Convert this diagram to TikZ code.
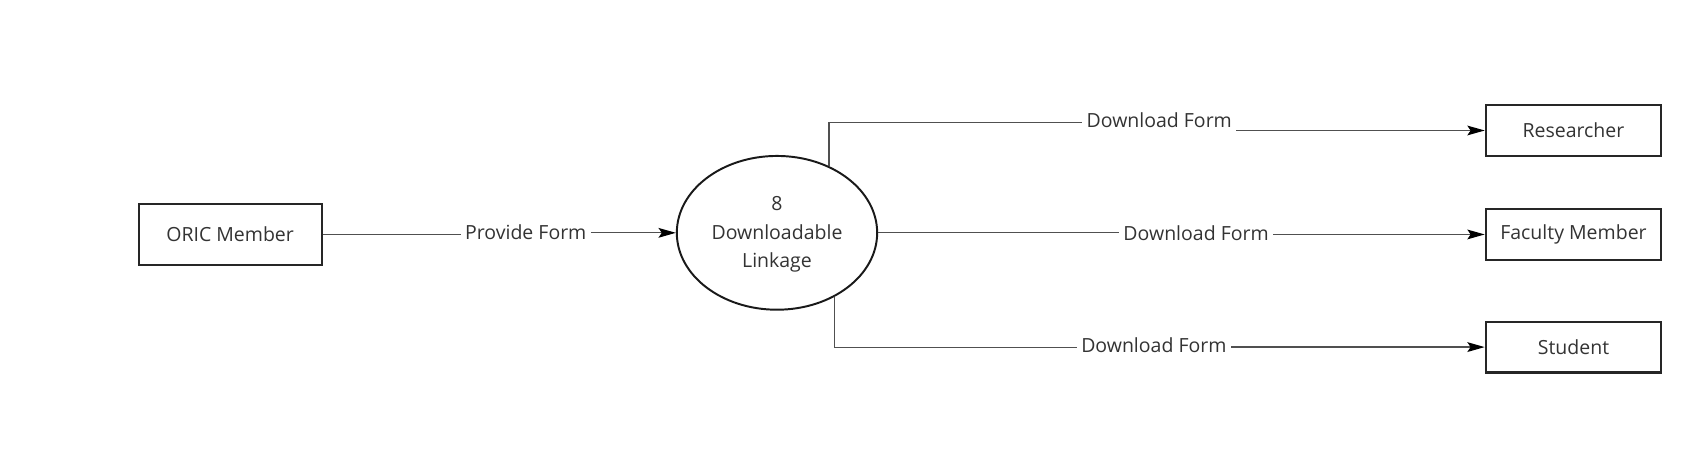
\documentclass[tikz,border=0pt]{standalone}
\usepackage{fontspec}
\setmainfont{Open Sans}
\usetikzlibrary{shapes.geometric,arrows.meta}
\definecolor{txt}{HTML}{333333}
\definecolor{ln}{HTML}{505050}
\begin{document}
\begin{tikzpicture}[x=1pt,y=-1pt,
  every node/.style={font=\fontsize{18}{26.5}\selectfont, text=txt},
  entity/.style={draw=black!85, line width=2pt, minimum width=162pt, minimum height=47pt, inner sep=0pt},
  proc/.style={draw=black!90, ellipse, line width=1.8pt, minimum width=185pt, minimum height=142pt, inner sep=0pt, align=center},
  flowlbl/.style={fill=white, inner sep=4pt},
  flow/.style={draw=ln, line width=1.2pt},
  tip/.style={-{Stealth[length=16pt,width=9pt,inset=3pt,fill=black,color=black]}, draw=ln, line width=1.2pt}
]
\useasboundingbox (0,0) rectangle (1568,432);
\node[entity, minimum width=169pt, minimum height=57pt] (oric) at (212.5,216.5) {ORIC Member};
\node[proc] (p8) at (717.5,215) {};
\node[align=center] (p8t) at (717.5,216.5) {8\\Downloadable\\Linkage};
\node[entity] (res) at (1453,120.5) {Researcher};
\node[entity] (fac) at (1453,216.5) {Faculty Member};
\node[entity] (stu) at (1453,320.5) {Student};

% Provide Form
\node[flowlbl] (lp) at (485.5,214) {Provide Form};
\draw[flow] (oric.east) -- (lp.west |- oric.east);
\draw[tip] (lp.east |- p8.west) -- (p8.west);

% top
\coordinate (t1) at (0,113);
\node[flowlbl] (lt) at (1070.5,111) {Download Form};
\draw[flow] (p8.52.1) -- (p8.52.1 |- t1) -- (lt.west |- t1);
\draw[tip] (lt.east |- res.west) -- (res.west);

% middle
\node[flowlbl] (lm) at (1104.5,215) {Download Form};
\draw[flow] (p8.east) -- (lm.west |- p8.east);
\draw[tip] (lm.east |- fac.west) -- (fac.west);

% bottom
\coordinate (b1) at (0,321);
\node[flowlbl] (lb) at (1065.5,319) {Download Form};
\draw[flow] (p8.-48.9) -- (p8.-48.9 |- b1) -- (lb.west |- b1);
\draw[tip] (lb.east |- stu.west) -- (stu.west);
\end{tikzpicture}
\end{document}
